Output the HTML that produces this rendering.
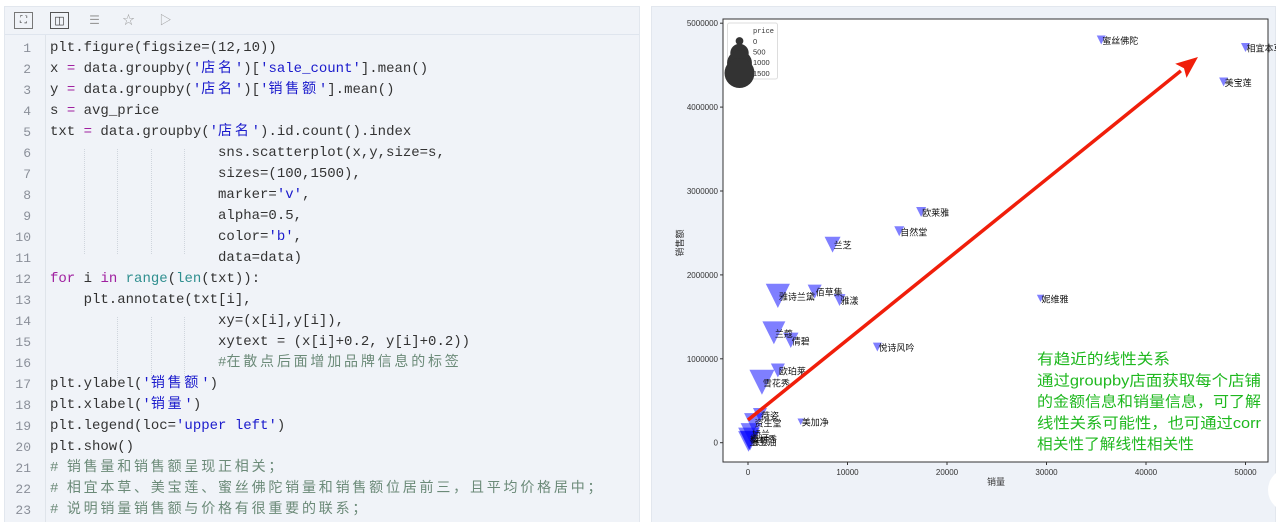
<!DOCTYPE html>
<html><head><meta charset="utf-8">
<style>
html,body{margin:0;padding:0;background:#fff;width:1276px;height:522px;overflow:hidden;position:relative;font-family:"Liberation Sans","Noto Sans CJK SC",sans-serif;}
#left{position:absolute;left:4px;top:6px;width:636px;height:520px;background:#f0f3f8;border:1px solid #e2e7ee;box-sizing:border-box;}
#toolbar{position:absolute;left:0;top:0;width:100%;height:27px;border-bottom:1px solid #dfe5ee;}
.tb{position:absolute;top:5px;width:19px;height:17px;box-sizing:border-box;font-size:12px;color:#999;text-align:center;line-height:16px;}
.code{position:absolute;left:0;top:31px;width:100%;font-family:"Liberation Mono","Noto Sans CJK SC",monospace;font-size:14px;}
.ln{position:absolute;left:0;width:26px;text-align:right;color:#8a8f99;font-size:13px;height:21px;line-height:21px;}
.cl{position:absolute;left:45px;white-space:pre;color:#333;height:21px;line-height:21px;}
.cj{display:inline-block;width:16.8px;text-align:left;line-height:21px;vertical-align:top;}
.s{color:#1a1acc}.k{color:#a020a0}.c{color:#6b8a78}.b{color:#2f8f8f}
#gutter{position:absolute;left:40px;top:28px;width:1px;height:490px;background:#dfe4ea;}
.guide{position:absolute;width:0;border-left:1px dotted #cfd5dd;}
#right{position:absolute;left:651px;top:6px;width:625px;height:520px;background:#eef2f8;border:1px solid #e2e7ee;box-sizing:border-box;}
svg{position:absolute;left:0;top:0;}
</style></head><body>
<div id="left">
 <div id="toolbar">
  <div class="tb" style="left:9px;border:1px solid #777;color:#444;font-size:10px">⛶</div>
  <div class="tb" style="left:45px;border:1px solid #555;color:#333;font-size:11px">◫</div>
  <div class="tb" style="left:80px">☰</div>
  <div class="tb" style="left:114px">☆</div>
  <div class="tb" style="left:151px">▷</div>
 </div>
 <div id="gutter"></div>
 <div class="guide" style="left:79px;top:142px;height:105px"></div>
 <div class="guide" style="left:112px;top:142px;height:105px"></div>
 <div class="guide" style="left:146px;top:142px;height:105px"></div>
 <div class="guide" style="left:179px;top:142px;height:105px"></div>
 <div class="guide" style="left:112px;top:310px;height:63px"></div>
 <div class="guide" style="left:146px;top:310px;height:63px"></div>
 <div class="guide" style="left:179px;top:310px;height:63px"></div>
 <div class="code" id="code"></div>
</div>
<div id="right"></div>
<svg id="chart" width="1276" height="522" font-family="Liberation Sans, Noto Sans CJK SC, sans-serif"></svg>
<script>
const lines=[
'plt.figure(figsize=(12,10))',
'x <k>=</k> data.groupby(<s>\'店名\'</s>)[<s>\'sale_count\'</s>].mean()',
'y <k>=</k> data.groupby(<s>\'店名\'</s>)[<s>\'销售额\'</s>].mean()',
's <k>=</k> avg_price',
'txt <k>=</k> data.groupby(<s>\'店名\'</s>).id.count().index',
'                    sns.scatterplot(x,y,size=s,',
'                    sizes=(100,1500),',
'                    marker=<s>\'v\'</s>,',
'                    alpha=0.5,',
'                    color=<s>\'b\'</s>,',
'                    data=data)',
'<k>for</k> i <k>in</k> <b>range</b>(<b>len</b>(txt)):',
'    plt.annotate(txt[i],',
'                    xy=(x[i],y[i]),',
'                    xytext = (x[i]+0.2, y[i]+0.2))',
'                    <c>#在散点后面增加品牌信息的标签</c>',
'plt.ylabel(<s>\'销售额\'</s>)',
'plt.xlabel(<s>\'销量\'</s>)',
'plt.legend(loc=<s>\'upper left\'</s>)',
'plt.show()',
'<c># 销售量和销售额呈现正相关；</c>',
'<c># 相宜本草、美宝莲、蜜丝佛陀销量和销售额位居前三，且平均价格居中；</c>',
'<c># 说明销量销售额与价格有很重要的联系；</c>'];
const code=document.getElementById('code');
lines.forEach((l,i)=>{
 const n=document.createElement('div');n.className='ln';n.style.top=(i*21)+'px';n.textContent=i+1;
 
 
 code.appendChild(n);
 const d=document.createElement('div');d.className='cl';d.style.top=(i*21)+'px';
 let h=l.replace(/[\u3000-\u9fff\uff00-\uffef、，；]/g,m=>'<i class="cj" style="font-style:normal">'+m+'</i>');
 d.innerHTML=h.replace(/<k>/g,'<span class="k">').replace(/<s>/g,'<span class="s">').replace(/<c>/g,'<span class="c">').replace(/<b>/g,'<span class="b">').replace(/<\/[ksbc]>/g,'</span>');
 
 
 code.appendChild(d);
});
</script>
<script>
// chart data
const stores=['蜜丝佛陀','相宜本草','美宝莲','欧莱雅','自然堂','兰芝','佰草集','雅诗兰黛','雅漾','妮维雅','兰蔻','倩碧','悦诗风吟','欧珀莱','雪花秀','美加净','薇姿','资生堂','娇兰','植村秀','雅顿','玉兰油'];
const saleCount=[35500,50000,47800,17400,15200,8500,6700,3000,9200,29400,2600,4300,13000,3000,1400,5300,1200,550,300,100,200,50];
const salesAmount=[4800000,4710000,4300000,2750000,2520000,2360000,1800000,1750000,1700000,1720000,1310000,1220000,1140000,860000,720000,250000,330000,240000,110000,50000,25000,15000];
const avgPrice=[100,100,100,150,150,550,400,1400,250,30,1250,500,100,400,1500,0,400,800,1000,1100,900,1000];
const xTicks=[0,10000,20000,30000,40000,50000];
const yTicks=[0,1000000,2000000,3000000,4000000,5000000];
const legendPrices=[0,500,1000,1500];

const NS='http://www.w3.org/2000/svg';
const svg=document.getElementById('chart');
function el(t,a,p){const e=document.createElementNS(NS,t);for(const k in a)e.setAttribute(k,a[k]);(p||svg).appendChild(e);return e;}
const L=723,R=1268,T=19,B=462;
const X=v=>748+v*0.00995;
const Y=v=>442.7-v*0.0000839;
const W=p=>0.645*Math.sqrt(100+Math.max(0,p)/1500*1400);

const ax=el('rect',{x:L,y:T,width:R-L,height:B-T,fill:'#fff',stroke:'#333','stroke-width':1});



xTicks.forEach(t=>{
 el('line',{x1:X(t),x2:X(t),y1:B,y2:B+3,stroke:'#333'});
 const tx=el('text',{x:X(t),y:B+13,'font-size':8,fill:'#333','text-anchor':'middle'});tx.textContent=t;
 
 
});
yTicks.forEach(t=>{
 el('line',{x1:L-3,x2:L,y1:Y(t),y2:Y(t),stroke:'#333'});
 const tx=el('text',{x:L-5,y:Y(t)+3,'font-size':8,fill:'#333','text-anchor':'end'});tx.textContent=t;
 
 
});
const xl=el('text',{x:996,y:485,'font-size':9,fill:'#333','text-anchor':'middle'});xl.textContent='销量';


const yl=el('text',{x:0,y:0,'font-size':9,fill:'#333','text-anchor':'middle',transform:'translate(683,243) rotate(-90)'});yl.textContent='销售额';



const g=el('g',{});


stores.forEach((s,i)=>{
 const cx=X(saleCount[i]),cy=Y(salesAmount[i]),w=W(avgPrice[i]);
 const p=el('polygon',{points:`${cx-w/2},${cy-w/2} ${cx+w/2},${cy-w/2} ${cx},${cy+w/2}`,fill:'#0000ff','fill-opacity':0.5},g);
 
 
});
stores.forEach((s,i)=>{
 const t=el('text',{x:X(saleCount[i])+1,y:Y(salesAmount[i])+4,'font-size':9,fill:'#111'});t.textContent=s;
 
 
});

// legend
const lg=el('g',{});


el('rect',{x:727.5,y:23,width:50,height:56,rx:2,fill:'#fff','fill-opacity':0.8,stroke:'#ddd'},lg);
const lt=el('text',{x:753,y:33,'font-size':7,fill:'#333','font-family':'Liberation Mono, monospace'},lg);lt.textContent='price';
const legendCy=[41,53,63,73];
legendPrices.forEach((p,i)=>{
 const c=el('circle',{cx:739.5,cy:legendCy[i],r:W(p)*0.6,fill:'#333'},lg);
 
 
});
legendPrices.forEach((p,i)=>{
 const t=el('text',{x:753,y:44+i*10.6,'font-size':7.5,fill:'#333'},lg);t.textContent=p;
 
 
});

// red arrow
const ar=el('g',{});


const x1=748,y1=420,x2=1198,y2=57;
const ang=Math.atan2(y2-y1,x2-x1),hl=22,hw=9;
const bx=x2-hl*Math.cos(ang),by=y2-hl*Math.sin(ang);
el('line',{x1:x1,y1:y1,x2:bx,y2:by,stroke:'#f01e0a','stroke-width':3.5},ar);
const px=-Math.sin(ang),py=Math.cos(ang);
el('polygon',{points:`${x2},${y2} ${bx+px*hw},${by+py*hw} ${bx+4*Math.cos(ang)},${by+4*Math.sin(ang)} ${bx-px*hw},${by-py*hw}`,fill:'#f01e0a'},ar);

// annotation text
const notes=['有趋近的线性关系','通过groupby店面获取每个店铺','的金额信息和销量信息，可了解','线性关系可能性，也可通过corr','相关性了解线性相关性'];
notes.forEach((n,i)=>{
 const t=el('text',{x:1037,y:364+i*21.3,'font-size':15,fill:'#1fb81f',textLength: i==0?133:(i==4?157:224),lengthAdjust:'spacingAndGlyphs'});t.textContent=n;
 
 
});
const wc=el('circle',{cx:1290,cy:490,r:22,fill:'#fff'});


</script>
</body></html>
